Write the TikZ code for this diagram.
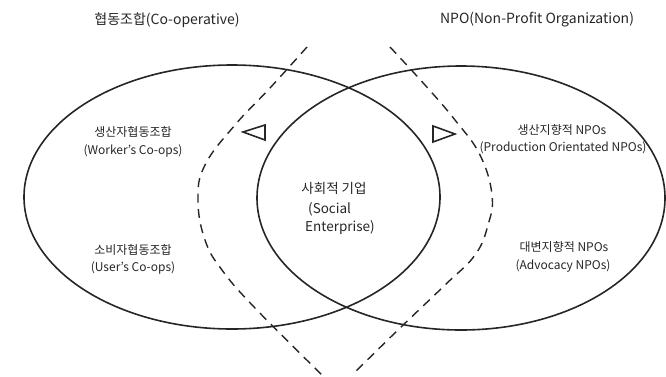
\documentclass[tikz,border=0pt]{standalone}
\usepackage{fontspec}
\setmainfont{Noto Sans CJK KR}
\begin{document}
\begin{tikzpicture}[x=1pt,y=-1pt,
  venn/.style={line width=1.6pt, draw=black!85},
  dashcurve/.style={line width=1.4pt, dash pattern=on 9pt off 6.5pt, draw=black!85},
  tri/.style={line width=1.6pt, draw=black!85, line join=miter},
  lbl/.style={font=\fontsize{12}{14}\selectfont, inner sep=0pt, text=black!85},
  ctr/.style={font=\fontsize{13.5}{16}\selectfont, inner sep=0pt, text=black!85},
  ttl/.style={font=\fontsize{14}{16}\selectfont, inner sep=0pt, text=black!85}]
\useasboundingbox (0,0) rectangle (666,376);
% ellipses
\draw[venn] (232,197) ellipse [x radius=208pt, y radius=132pt];
\draw[venn] (461,198) ellipse [x radius=204pt, y radius=132pt];
% dashed boundaries
\draw[dashcurve] plot[smooth, tension=0.7] coordinates {(307,47) (270,88) (235,125) (205,165) (198,200) (205,240) (222,270) (255,308) (322,375)};
\draw[dashcurve] plot[smooth, tension=0.7] coordinates {(390,47) (425,85) (455,120) (480,155) (492,195) (488,225) (475,255) (445,285) (400,328) (355,372)};
% triangles
\draw[tri] (243,132) -- (265,125) -- (265,140) -- cycle;
\draw[tri] (455,134) -- (433,126) -- (433,142) -- cycle;
% titles
\node[ttl] (tl) at (167,20) {협동조합(Co-operative)};
\node[ttl] (tr) at (537,20) {NPO(Non-Profit Organization)};
% left texts
\node[lbl] (a1) at (133,132) {생산자협동조합};
\node[lbl] (a2) at (133,151) {(Worker's Co-ops)};
\node[lbl] (b1) at (133,250) {소비자협동조합};
\node[lbl] (b2) at (133,268) {(User's Co-ops)};
% right texts
\node[lbl] (c1) at (562,130) {생산지향적 NPOs};
\node[lbl] (c2) at (563,148) {(Production Orientated NPOs)};
\node[lbl] (d1) at (564,247) {대변지향적 NPOs};
\node[lbl] (d2) at (563,266) {(Advocacy NPOs)};
% centre texts
\node[ctr] (s1) at (334,188) {사회적 기업};
\node[ctr, anchor=west] (s2) at (308,209) {(Social};
\node[ctr, anchor=west] (s3) at (305,228) {Enterprise)};
\end{tikzpicture}
\end{document}
